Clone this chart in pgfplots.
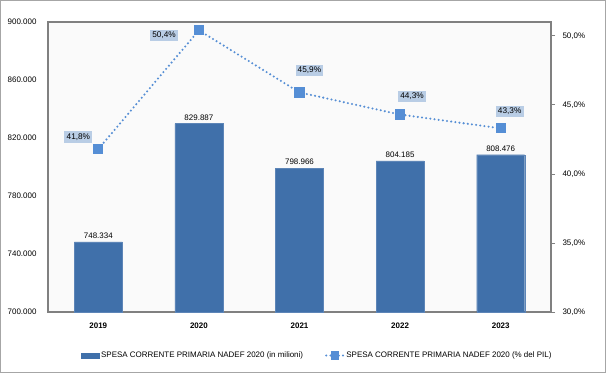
\documentclass[border=0pt]{standalone}
\usepackage{pgfplots}
\pgfplotsset{compat=1.18}
\usepackage{pgfplotstable}
\usepackage{fontspec}
\setmainfont{Liberation Sans}
\definecolor{barblue}{RGB}{64,112,170}
\definecolor{lineblue}{RGB}{85,142,213}
\definecolor{lblfill}{RGB}{185,205,229}
\definecolor{framegray}{RGB}{128,128,128}
\definecolor{outergray}{RGB}{166,166,166}
\definecolor{plotbg}{RGB}{250,250,250}

\pgfplotstableread{
x y lab
0 748.334 748.334
1 829.887 829.887
2 798.966 798.966
3 804.185 804.185
4 808.476 808.476
}\bars

\pgfplotstableread{
x y lab dx dy
0 41.8 41,8\% -20 12
1 50.4 50,4\% -35 -5
2 45.9 45,9\% 10 22
3 44.3 44,3\% 12 18
4 43.3 43,3\% 9 17
}\pct

\begin{document}
\begin{tikzpicture}[x=1bp,y=1bp]
\draw[outergray, line width=1bp] (0.5,0.5) rectangle (605.5,372.5);
\begin{axis}[
  at={(48bp,61bp)}, anchor=south west, scale only axis,
  width=503bp, height=290bp,
  xmin=-0.5, xmax=4.5, ymin=700, ymax=900,
  xtick={0,1,2,3,4}, xticklabels={2019,2020,2021,2022,2023},
  ytick={700,740,780,820,860,900},
  yticklabels={700.000,740.000,780.000,820.000,860.000,900.000},
  major tick length=0pt,
  axis line style={framegray, line width=1.5bp},
  axis background/.style={fill=plotbg},
  tick label style={font=\fontsize{8}{9}\selectfont},
  xticklabel style={font=\fontsize{8}{9}\selectfont\bfseries, yshift=-7bp},
  yticklabel style={xshift=-8bp},
  clip=false,
  legend columns=2,
  legend style={draw=none, fill=none, font=\fontsize{8}{9}\selectfont,
    at={(0.535,-0.150)}, anchor=center,
    /tikz/every even column/.append style={column sep=20bp}},
]
\addplot[ybar, bar width=48bp, fill=barblue, draw=barblue!85!white,
  nodes near coords, point meta=explicit symbolic,
  nodes near coords style={font=\fontsize{8}{9}\selectfont, black},
  legend image code/.code={\fill[barblue] (0bp,-2.5bp) rectangle (18bp,2.5bp);}]
  table[x=x,y=y,meta=lab]{\bars};
\addlegendentry{SPESA CORRENTE PRIMARIA NADEF 2020 (in milioni)}
\addlegendimage{lineblue, line width=2.3bp, dash pattern=on 0pt off 4.2bp, line cap=round,
  mark=square*, mark size=3bp, mark options={solid, fill=lineblue}}
\addlegendentry{SPESA CORRENTE PRIMARIA NADEF 2020 (\% del PIL)}
\end{axis}
\begin{axis}[
  at={(48bp,61bp)}, anchor=south west, scale only axis,
  width=503bp, height=290bp,
  xmin=-0.5, xmax=4.5, ymin=30, ymax=51.0,
  axis x line=none, axis y line*=right,
  ytick={30,35,40,45,50},
  yticklabels={{30,0\%},{35,0\%},{40,0\%},{45,0\%},{50,0\%}},
  y axis line style={framegray, line width=1.5bp},
  ytick style={framegray, line width=0.8bp},
  tick align=outside, major tick length=4bp,
  yticklabel style={font=\fontsize{8}{9}\selectfont, xshift=4bp},
  clip=false,
]
\addplot[lineblue, line width=2.3bp, dash pattern=on 0pt off 4.2bp, line cap=round,
  mark=square*, mark size=4bp, mark options={solid, fill=lineblue},
  nodes near coords, point meta=explicit symbolic,
  visualization depends on={\thisrow{dx}\as\dx},
  visualization depends on={\thisrow{dy}\as\dy},
  nodes near coords style={font=\fontsize{8.3}{9}\selectfont, black, fill=lblfill,
    inner sep=2.2bp, anchor=center, xshift=\dx, yshift=\dy}]
  table[x=x,y=y,meta=lab]{\pct};
\end{axis}
\end{tikzpicture}
\end{document}
